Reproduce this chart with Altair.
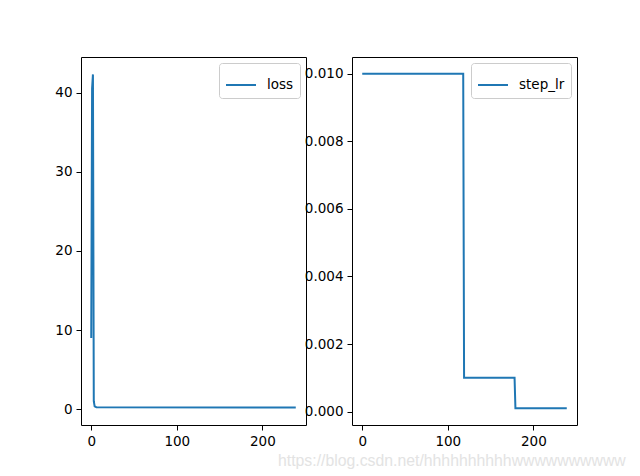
import altair as alt
import pandas as pd

# Left panel: loss
loss_x = [0, 1, 2, 3, 4, 6, 239]
loss_y = [9.0, 40.5, 42.3, 1.0, 0.35, 0.25, 0.22]

# Right panel: step_lr
lr_x = [0, 118, 119, 178, 179, 239]
lr_y = [0.01, 0.01, 0.001, 0.001, 0.0001, 0.0001]

watermark = "https://blog.csdn.net/hhhhhhhhhhwwwwwwwwww"

loss_df = pd.DataFrame({"x": loss_x, "y": loss_y, "series": "loss"})
lr_df = pd.DataFrame({"x": lr_x, "y": lr_y, "series": "step_lr"})

BLUE = "#1f77b4"
FONT = "DejaVu Sans"

def legend():
    return alt.Legend(
        title=None, orient="top-right", offset=6,
        fillColor="white", strokeColor="#cccccc", cornerRadius=3,
        padding=6, symbolType="stroke", symbolSize=900,
        symbolStrokeWidth=2, labelFontSize=13.5, labelFont=FONT,
        labelColor="black", labelOffset=10,
    )

def axis_common(**kw):
    return alt.Axis(grid=False, domain=False, tickColor="black", tickSize=5,
                    labelPadding=4, labelFont=FONT, labelFontSize=13.5,
                    labelColor="black", title=None, **kw)

left = alt.Chart(loss_df).mark_line(strokeWidth=2).encode(
    x=alt.X("x:Q", scale=alt.Scale(domain=[-11.95, 250.95], nice=False, zero=False),
            axis=axis_common(values=[0, 100, 200])),
    y=alt.Y("y:Q", scale=alt.Scale(domain=[-2.0, 44.5], nice=False, zero=False),
            axis=axis_common(values=[0, 10, 20, 30, 40], minExtent=72, maxExtent=72)),
    color=alt.Color("series:N", scale=alt.Scale(domain=["loss"], range=[BLUE]), legend=legend()),
).properties(width=225, height=368)

right_line = alt.Chart(lr_df).mark_line(strokeWidth=2).encode(
    x=alt.X("x:Q", scale=alt.Scale(domain=[-11.95, 250.95], nice=False, zero=False),
            axis=axis_common(values=[0, 100, 200])),
    y=alt.Y("y:Q", scale=alt.Scale(domain=[-0.000395, 0.010495], nice=False, zero=False),
            axis=axis_common(values=[0, 0.002, 0.004, 0.006, 0.008, 0.01], format=".3f",
                             minExtent=46, maxExtent=46)),
    color=alt.Color("series:N", scale=alt.Scale(domain=["step_lr"], range=[BLUE]), legend=legend()),
)

wm = alt.Chart(pd.DataFrame({"t": [watermark]})).mark_text(
    font="Liberation Sans", fontSize=15.8, color="#e3e3e3", align="left", baseline="alphabetic"
).encode(text="t:N", x=alt.value(-74), y=alt.value(409))

right = alt.layer(right_line, wm).properties(width=225, height=368)

chart = alt.hconcat(left, right, spacing=46, bounds="flush").resolve_scale(color="independent").configure(
    padding={"left": 0, "top": 48, "right": 0, "bottom": 0},
).configure_view(stroke="black", strokeWidth=1)

chart.save("out.html", embed_options={"renderer": "svg", "actions": False})
